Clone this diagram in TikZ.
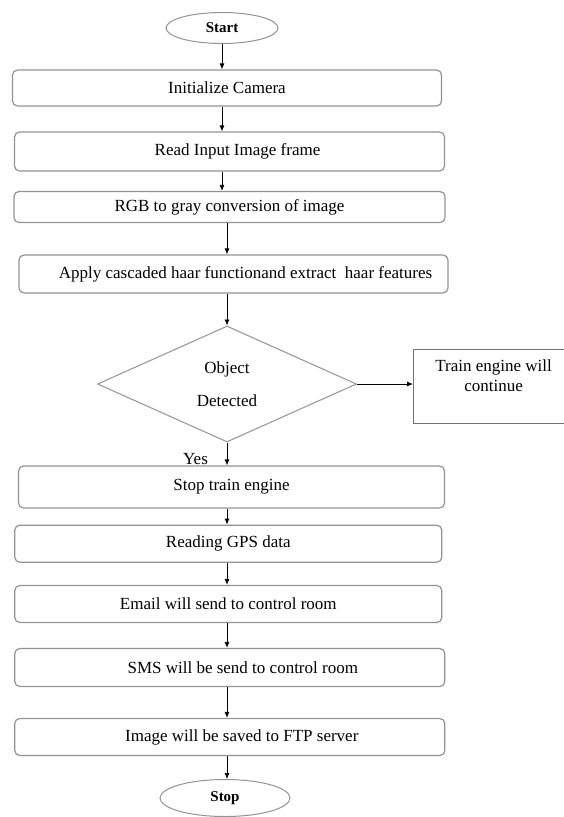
\documentclass[tikz,border=0pt]{standalone}
\usepackage{fontspec}
\setmainfont{Liberation Serif}
\usetikzlibrary{positioning}
\usetikzlibrary{arrows.meta}
\usetikzlibrary{shapes.geometric}

\begin{document}
\begin{tikzpicture}[x=1pt, y=-1pt,
  font=\fontsize{17}{20}\selectfont,
  procbox/.style={draw=gray!85, line width=1.2pt, rounded corners=5pt, inner sep=0pt},
  termbox/.style={draw=gray!85, line width=1pt, ellipse, inner sep=0pt,
    font=\fontsize{15}{18}\selectfont\bfseries},
  decbox/.style={draw=gray!85, line width=1pt, diamond, aspect=2.2, inner sep=0pt,
    minimum width=259pt, minimum height=116pt, align=center},
  flowarrow/.style={-{Latex[length=6pt,width=5pt]}, line width=0.8pt}]
  \useasboundingbox (0,0) rectangle (563,817);

  \node [termbox, minimum width=112pt, minimum height=31pt] (start) at (222,28) {Start};
  \node [procbox, minimum width=429pt, minimum height=36pt] (init) at (227,88) {Initialize Camera};
  \node [procbox, minimum width=430pt, minimum height=39pt] (read) at (229.5,151.5) {\hspace{16pt}Read Input Image frame};
  \node [procbox, minimum width=431pt, minimum height=31pt] (rgb) at (229.5,207) {RGB to gray conversion of image};
  \node [procbox, minimum width=429pt, minimum height=38pt] (apply) at (233.5,274) {\hspace{24pt}Apply cascaded haar functionand extract~ haar features};
  \node [decbox] (dec) at (227,384) {Object\\[13pt]Detected};
  \node [draw=gray!90!black, line width=1.1pt, inner sep=0pt, anchor=north west] (train) at (413,349)
    {\parbox[c][74pt][t]{160pt}{\centering\rule{0pt}{22pt}Train engine will\\continue}};
  \node (yes) at (195.5,459) {Yes};
  \node [procbox, minimum width=426pt, minimum height=42pt] (stopengine) at (231.5,487) {Stop train engine};
  \node [procbox, minimum width=427pt, minimum height=37pt] (gps) at (228.3,543.7) {Reading GPS data};
  \node [procbox, minimum width=427pt, minimum height=37pt] (email) at (228.3,604) {Email will send to control room};
  \node [procbox, minimum width=430pt, minimum height=38pt] (sms) at (229.8,667.5) {\hspace{26pt}SMS will be send to control room};
  \node [procbox, minimum width=430pt, minimum height=37pt] (image) at (229.8,737) {\hspace{24pt}Image will be saved to FTP server};
  \node [termbox, minimum width=130pt, minimum height=37pt] (stop) at (225,798) {Stop};

  % upper part
  \draw [flowarrow] (start.south) -- (init.north -| start.south);
  \draw [flowarrow] (init.south -| start.south) -- (read.north -| start.south);
  \draw [flowarrow] (read.south -| start.south) -- (rgb.north -| start.south);
  \draw [flowarrow] (rgb.south -| dec.north) -- (apply.north -| dec.north);
  \draw [flowarrow] (apply.south -| dec.north) -- (dec.north);

  % decision
  \draw [flowarrow] (dec.east) -- (dec.east -| train.west);
  \draw [flowarrow] (dec.south) -- (stopengine.north -| dec.south);

  % lower part
  \foreach \a/\b in {stopengine/gps, gps/email, email/sms, sms/image, image/stop}
    \draw [flowarrow] (\a.south -| dec.south) -- (\b.north -| dec.south);
\end{tikzpicture}
\end{document}
